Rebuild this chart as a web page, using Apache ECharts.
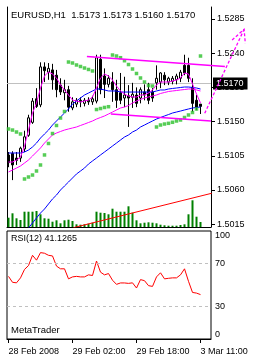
<!DOCTYPE html>
<html><head><meta charset="utf-8">
<script src="https://cdn.jsdelivr.net/npm/echarts@6/dist/echarts.min.js"></script>
<style>html,body{margin:0;padding:0;background:#fff;}#c{width:256px;height:362px;}</style>
</head><body><div id="c"></div>
<script>
const symbolName = 'EURUSD,H1';
const timeTickIndex = [0, 16, 32, 48];
const timeTickLabels = ['28 Feb 2008', '29 Feb 02:00', '29 Feb 18:00', '3 Mar 11:00'];
const priceTicks = [1.5015, 1.5060, 1.5105, 1.5150, 1.5195, 1.5240, 1.5285];
const rsiTicks = [0, 30, 70, 100];
const rsiLevels = [70, 30];

const open = [1.5106,1.5108,1.5102,1.5102,1.5114,1.5132,1.5149,1.5180,1.5172,1.5222,1.5215,1.5218,1.5211,1.5198,1.5188,1.5192,1.5168,1.5173,1.5178,1.5174,1.5178,1.5176,1.5177,1.5232,1.5210,1.5199,1.5202,1.5192,1.5188,1.5181,1.5184,1.5182,1.5185,1.5181,1.5189,1.5192,1.5189,1.5201,1.5202,1.5211,1.5202,1.5203,1.5205,1.5207,1.5224,1.5224,1.5195,1.5178,1.5173];
const high = [1.5110,1.5111,1.5110,1.5117,1.5138,1.5159,1.5181,1.5194,1.5228,1.5228,1.5227,1.5226,1.5218,1.5207,1.5205,1.5197,1.5182,1.5181,1.5182,1.5181,1.5182,1.5184,1.5238,1.5238,1.5220,1.5211,1.5215,1.5205,1.5214,1.5209,1.5198,1.5201,1.5195,1.5195,1.5199,1.5201,1.5194,1.5224,1.5215,1.5215,1.5209,1.5210,1.5213,1.5218,1.5238,1.5234,1.5207,1.5185,1.5173];
const low = [1.5090,1.5073,1.5093,1.5097,1.5110,1.5130,1.5147,1.5168,1.5169,1.5202,1.5205,1.5192,1.5182,1.5185,1.5178,1.5163,1.5165,1.5169,1.5169,1.5170,1.5172,1.5172,1.5174,1.5186,1.5181,1.5195,1.5176,1.5168,1.5173,1.5169,1.5143,1.5168,1.5169,1.5174,1.5178,1.5173,1.5176,1.5192,1.5194,1.5198,1.5198,1.5199,1.5199,1.5202,1.5211,1.5202,1.5163,1.5165,1.5160];
const close = [1.5096,1.5093,1.5099,1.5115,1.5130,1.5155,1.5177,1.5170,1.5222,1.5217,1.5220,1.5205,1.5192,1.5189,1.5192,1.5169,1.5176,1.5178,1.5176,1.5178,1.5176,1.5180,1.5234,1.5192,1.5199,1.5207,1.5192,1.5178,1.5178,1.5185,1.5181,1.5186,1.5174,1.5192,1.5185,1.5178,1.5181,1.5207,1.5214,1.5205,1.5207,1.5207,1.5210,1.5215,1.5214,1.5207,1.5174,1.5169,1.5170];
const volume = [465,685,435,350,765,765,765,800,635,435,415,265,335,185,335,365,300,135,115,135,165,215,765,715,700,635,915,765,765,765,1035,715,335,185,215,235,215,185,115,85,65,65,65,100,135,635,1335,515,250];

const fastMA = [1.50968,1.50968,1.50995,1.51034,1.51179,1.51389,1.51613,1.51745,1.51942,1.52100,1.52153,1.52126,1.52074,1.51982,1.51916,1.51850,1.51784,1.51771,1.51758,1.51771,1.51784,1.51824,1.51942,1.52074,1.52126,1.52100,1.52047,1.51968,1.51903,1.51863,1.51837,1.51824,1.51824,1.51850,1.51850,1.51876,1.51916,1.51982,1.52021,1.52021,1.52021,1.52034,1.52047,1.52074,1.52139,1.52126,1.51995,1.51863,1.51745];
const slowMagenta = [1.50837,1.50863,1.50889,1.50916,1.50955,1.50995,1.51047,1.51100,1.51153,1.51218,1.51271,1.51324,1.51350,1.51370,1.51389,1.51403,1.51416,1.51429,1.51449,1.51468,1.51488,1.51508,1.51534,1.51554,1.51574,1.51600,1.51626,1.51653,1.51679,1.51692,1.51712,1.51745,1.51771,1.51791,1.51811,1.51824,1.51837,1.51850,1.51870,1.51883,1.51896,1.51903,1.51909,1.51916,1.51922,1.51929,1.51929,1.51916,1.51903];
const midBlue = [1.51087,1.51087,1.51087,1.51087,1.51100,1.51126,1.51166,1.51218,1.51284,1.51337,1.51389,1.51455,1.51508,1.51561,1.51613,1.51666,1.51732,1.51771,1.51811,1.51850,1.51876,1.51903,1.51929,1.51929,1.51916,1.51903,1.51903,1.51903,1.51889,1.51889,1.51889,1.51889,1.51889,1.51889,1.51889,1.51889,1.51889,1.51903,1.51916,1.51916,1.51929,1.51936,1.51942,1.51949,1.51955,1.51955,1.51949,1.51942,1.51929];
const slowBlue = [1.49784,1.49850,1.49916,1.49968,1.50034,1.50100,1.50166,1.50232,1.50297,1.50350,1.50416,1.50482,1.50534,1.50600,1.50653,1.50705,1.50758,1.50811,1.50850,1.50889,1.50942,1.50982,1.51021,1.51061,1.51100,1.51139,1.51179,1.51218,1.51258,1.51297,1.51324,1.51363,1.51389,1.51429,1.51455,1.51482,1.51508,1.51534,1.51554,1.51574,1.51593,1.51613,1.51626,1.51639,1.51653,1.51666,1.51679,1.51686,1.51692];
const sar = [1.51403,1.51389,1.51363,1.51337,1.50745,1.50771,1.50797,1.50850,1.50929,1.51061,1.51212,1.51343,1.51449,1.51547,1.51633,1.52284,1.52271,1.52245,1.52225,1.52205,1.52186,1.52166,1.51659,1.51672,1.51686,1.51696,1.52376,1.52363,1.52341,1.52301,1.52251,1.52192,1.52133,1.52074,1.52021,1.51975,1.51968,1.51429,1.51455,1.51468,1.51477,1.51491,1.51508,1.51521,1.51554,1.51587,1.51620,1.51666,1.52363];
const rsi = [58,52.5,52,56.6,64.4,68,77.5,73,80,79.4,77.5,76.9,67.5,65,65,55.7,57.5,58,57.5,57.5,59.4,58.8,72.2,61.9,59.4,60.6,54.4,50.6,51.9,51.9,51.5,52,47.2,55,54,49.4,48.7,57.5,61.3,55.7,56.2,56.6,56.6,59.4,65,53.4,43.1,42.5,41.1265];

// drawn objects, in [bar index, price]
const channelUpper = [[19.6, 1.52357], [54.1, 1.52225]];
const channelLower = [[25.6, 1.51600], [50.6, 1.51508]];
const redTrend = [[16.2, 1.50104], [50.8, 1.50557]];
const arrowShaft = [[49.05, 1.51609], [58.9, 1.52714]];
const arrowHead = [[55.9, 1.52574], [58.9, 1.52714], [59.2, 1.52530]];

const FONT = 'Liberation Sans, Arial, sans-serif';
const last = close.length - 1;
const idx = a => a.map((v, i) => [i, v]);
const xMin = -0.375, xMax = 50.625;
const priceMin = 1.5285 - 208 / 7600, priceMax = 1.5285 + 12 / 7600;

const chart = echarts.init(document.getElementById('c'), null, {renderer: 'canvas'});
chart.setOption({
  animation: false,
  backgroundColor: '#fff',
  textStyle: {fontFamily: FONT},
  title: [
    {text: symbolName + '  ' + [open[last], high[last], low[last], close[last]].map(v => v.toFixed(4)).join(' '),
     left: 11, top: 10, padding: 0, textStyle: {fontSize: 9.5, fontWeight: 'normal', color: '#000', fontFamily: FONT}},
    {text: 'RSI(12) ' + rsi[last].toFixed(4), left: 11, top: 234, padding: 0,
     textStyle: {fontSize: 9, fontWeight: 'normal', color: '#000', fontFamily: FONT}},
    {text: 'MetaTrader', left: 11, top: 325, padding: 0,
     textStyle: {fontSize: 9.5, fontWeight: 'normal', color: '#000', fontFamily: FONT}}
  ],
  grid: [
    {left: 7, top: 7, width: 204, height: 220, show: false},
    {left: 7, top: 231, width: 204, height: 108, show: true, borderColor: '#000', borderWidth: 1, backgroundColor: 'transparent'}
  ],
  xAxis: [
    {type: 'value', gridIndex: 0, min: xMin, max: xMax, position: 'bottom',
     axisLine: {show: true, onZero: false, lineStyle: {color: '#000', width: 1}},
     axisTick: {show: false}, axisLabel: {show: false}, splitLine: {show: false}},
    {type: 'value', gridIndex: 1, min: xMin, max: xMax, position: 'bottom',
     axisLine: {show: true, onZero: false, lineStyle: {color: '#000', width: 1}},
     axisTick: {show: true, customValues: timeTickIndex, length: 4, lineStyle: {color: '#000'}},
     axisLabel: {show: true, customValues: timeTickIndex, margin: 8, align: 'left', color: '#000', fontSize: 9, fontFamily: FONT,
       formatter: v => timeTickLabels[timeTickIndex.indexOf(Math.round(v))] || ''},
     splitLine: {show: false}}
  ],
  yAxis: [
    {type: 'value', gridIndex: 0, position: 'right', min: priceMin, max: priceMax,
     axisLine: {show: true, onZero: false, lineStyle: {color: '#000', width: 1}},
     axisTick: {show: true, customValues: priceTicks, length: 4, lineStyle: {color: '#000'}},
     axisLabel: {show: true, customValues: priceTicks, margin: 6, color: '#000', fontSize: 9, fontFamily: FONT,
       formatter: v => v.toFixed(4)},
     splitLine: {show: false}},
    {type: 'value', gridIndex: 0, position: 'left', min: 0, max: 11000,
     axisLine: {show: true, onZero: false, lineStyle: {color: '#000', width: 1}},
     axisTick: {show: false}, axisLabel: {show: false}, splitLine: {show: false}},
    {type: 'value', gridIndex: 1, position: 'right', min: 0, max: 100,
     axisLine: {show: false}, axisTick: {show: false},
     axisLabel: {show: true, customValues: rsiTicks, margin: 4, color: '#000', fontSize: 9, fontFamily: FONT,
       verticalAlignMinLabel: 'bottom', verticalAlignMaxLabel: 'top'},
     splitLine: {show: false}}
  ],
  series: [
    {type: 'bar', name: 'Volume', xAxisIndex: 0, yAxisIndex: 1, data: idx(volume), barWidth: 2,
     itemStyle: {color: '#008000'}, z: 1, silent: true},
    {type: 'line', name: 'Trend', xAxisIndex: 0, yAxisIndex: 0, data: redTrend, symbol: 'none',
     lineStyle: {color: '#ff0000', width: 1}, z: 2, silent: true},
    {type: 'candlestick', name: symbolName, xAxisIndex: 0, yAxisIndex: 0,
     data: close.map((c, i) => [i, open[i], c, low[i], high[i]]),
     encode: {x: 0, y: [1, 2, 3, 4]}, barWidth: 3,
     itemStyle: {color: '#fff', color0: '#000', borderColor: '#000', borderColor0: '#000', borderWidth: 1},
     z: 3, silent: true,
     markLine: {silent: true, symbol: ['none', 'none'], z: 1,
       lineStyle: {color: '#c0c0c0', type: 'solid', width: 1},
       label: {show: true, position: 'end', distance: 2, formatter: close[last].toFixed(4), color: '#fff',
         backgroundColor: '#000', padding: [2, 4, 1, 3], fontSize: 9, fontFamily: FONT},
       data: [{yAxis: close[last]}]}},
    {type: 'line', name: 'MA slow blue', xAxisIndex: 0, yAxisIndex: 0, data: idx(slowBlue), symbol: 'none',
     lineStyle: {color: '#0000ff', width: 1}, z: 4, silent: true},
    {type: 'line', name: 'MA blue', xAxisIndex: 0, yAxisIndex: 0, data: idx(midBlue), symbol: 'none',
     lineStyle: {color: '#0000ff', width: 1}, z: 4, silent: true},
    {type: 'line', name: 'MA slow magenta', xAxisIndex: 0, yAxisIndex: 0, data: idx(slowMagenta), symbol: 'none',
     lineStyle: {color: '#ff00ff', width: 1}, z: 4, silent: true},
    {type: 'line', name: 'MA fast', xAxisIndex: 0, yAxisIndex: 0, data: idx(fastMA), symbol: 'none',
     lineStyle: {color: '#ff00ff', width: 1}, z: 4, silent: true},
    {type: 'scatter', name: 'SAR', xAxisIndex: 0, yAxisIndex: 0, data: idx(sar), symbol: 'rect', symbolSize: [3.5, 3.5],
     itemStyle: {color: '#2cc02c'}, z: 5, silent: true},
    {type: 'line', name: 'RSI', xAxisIndex: 1, yAxisIndex: 2, data: idx(rsi), symbol: 'none',
     lineStyle: {color: '#ff0000', width: 1}, z: 4, silent: true,
     markLine: {silent: true, symbol: ['none', 'none'], label: {show: false},
       lineStyle: {color: '#c0c0c0', type: [3, 3], width: 1},
       data: rsiLevels.map(v => ({yAxis: v}))}}
  ]
});

// Drawn objects that reach past the chart frame: positioned through the chart's own price/time scales.
const toPx = pts => pts.map(p => chart.convertToPixel({xAxisIndex: 0, yAxisIndex: 0}, p));
const poly = (pts, dash, w) => ({type: 'polyline', silent: true, z: 20,
  shape: {points: toPx(pts)}, style: {stroke: '#ff00ff', lineWidth: w, fill: null, lineDash: dash}});
chart.setOption({graphic: [
  poly(channelUpper, null, 1.5),
  poly(channelLower, null, 1.5),
  poly(arrowShaft, [3, 2], 1.3),
  poly(arrowHead, [3, 2], 1.3)
]});
</script></body></html>
